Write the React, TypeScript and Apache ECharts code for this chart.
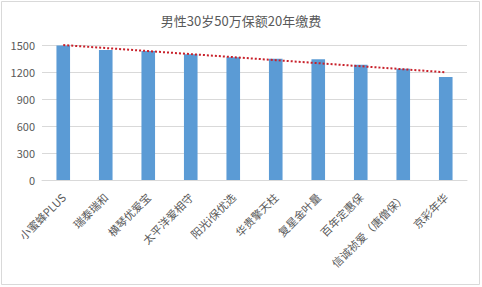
import React, { useEffect, useRef } from "react";
import * as echarts from "echarts";

const titleText = "男性30岁50万保额20年缴费";
const categories = [
  "小蜜蜂PLUS",
  "瑞泰瑞和",
  "横琴优爱宝",
  "太平洋爱相守",
  "阳光i保优选",
  "华贵擎天柱",
  "复星金叶量",
  "百年定惠保",
  "信诚祯爱（唐僧保）",
  "京彩年华",
];
const premiums = [1495, 1444, 1433, 1397, 1363, 1348, 1341, 1281, 1237, 1144];
const yTicks = [0, 300, 600, 900, 1200, 1500];

// Linear trend line (least squares), as in the original spreadsheet chart
function linearTrend(values: number[]): number[] {
  const n = values.length;
  const xs = values.map((_, i) => i + 1);
  const mx = xs.reduce((a, b) => a + b, 0) / n;
  const my = values.reduce((a, b) => a + b, 0) / n;
  let sxy = 0;
  let sxx = 0;
  for (let i = 0; i < n; i++) {
    sxy += (xs[i] - mx) * (values[i] - my);
    sxx += (xs[i] - mx) * (xs[i] - mx);
  }
  const slope = sxy / sxx;
  return xs.map((x) => my + slope * (x - mx));
}

export default function App() {
  const ref = useRef<HTMLDivElement>(null);
  useEffect(() => {
    if (!ref.current) return;
    const chart = echarts.init(ref.current, undefined, { renderer: "svg" });
    const font = "'Noto Sans CJK SC', 'Microsoft YaHei', sans-serif";
    chart.setOption({
      animation: false,
      backgroundColor: "#ffffff",
      title: {
        text: titleText,
        left: "center",
        top: 9,
        textStyle: {
          fontSize: 13,
          fontWeight: "normal",
          color: "#595959",
          fontFamily: font,
        },
      },
      grid: { left: 42, right: 15, top: 45, bottom: 107, containLabel: false },
      xAxis: {
        type: "category",
        data: categories,
        axisLine: { show: true, lineStyle: { color: "#d9d9d9", width: 1 } },
        axisTick: { show: false },
        axisLabel: {
          rotate: 45,
          interval: 0,
          fontSize: 11,
          color: "#595959",
          fontFamily: font,
          margin: 15,
        },
      },
      yAxis: {
        type: "value",
        min: yTicks[0],
        max: yTicks[yTicks.length - 1],
        interval: 300,
        axisLine: { show: false },
        axisTick: { show: false },
        splitLine: { lineStyle: { color: "#d9d9d9", width: 1 } },
        axisLabel: {
          fontSize: 11,
          color: "#595959",
          fontFamily: font,
          margin: 7,
          formatter: (v: number) => String(v),
        },
      },
      series: [
        {
          type: "bar",
          data: premiums,
          barWidth: "32%",
          itemStyle: { color: "#5b9bd5" },
        },
        {
          type: "line",
          data: linearTrend(premiums),
          symbol: "none",
          lineStyle: { color: "#c8202a", width: 2, type: [2, 2] },
          z: 5,
        },
      ],
      graphic: [
        {
          type: "rect",
          shape: { x: 1.5, y: 1.5, width: 478, height: 283 },
          style: { fill: "none", stroke: "#d9d9d9", lineWidth: 1 },
          silent: true,
        },
      ],
    });
    return () => chart.dispose();
  }, []);
  return (
    <div
      ref={ref}
      style={{ position: "fixed", left: 0, top: 0, width: 482, height: 287 }}
    />
  );
}
